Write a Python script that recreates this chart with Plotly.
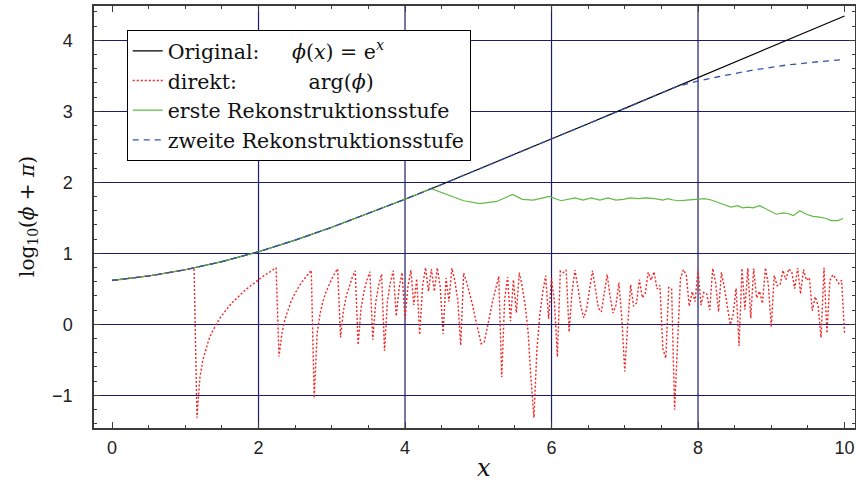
import plotly.graph_objects as go

# ---------------- data ----------------
orig_x = [0.0, 0.5, 1.0, 1.5, 2.0, 2.5, 3.0, 3.5, 4.0, 4.5, 5.0,
          5.5, 6.0, 6.5, 7.0, 7.5, 8.0, 8.5, 9.0, 9.5, 10.0]
orig_y = [0.617, 0.680, 0.768, 0.882, 1.022, 1.185, 1.366, 1.559, 1.761, 1.969, 2.181,
          2.394, 2.609, 2.825, 3.041, 3.258, 3.475, 3.692, 3.909, 4.126, 4.343]

red_x = [0.0, 0.2, 0.4, 0.6, 0.8, 1.0, 1.12,
         1.16, 1.20, 1.24, 1.28, 1.32, 1.36, 1.40, 1.44, 1.48, 1.52,
         1.56, 1.60, 1.64, 1.68, 1.72, 1.76, 1.80, 1.84, 1.88, 1.92,
         1.96, 2.00, 2.04, 2.08, 2.12, 2.16, 2.20, 2.24, 2.28, 2.32,
         2.36, 2.40, 2.44, 2.48, 2.52, 2.56, 2.60, 2.64, 2.68, 2.72,
         2.76, 2.80, 2.84, 2.88, 2.92, 2.96, 3.00, 3.04, 3.08, 3.12,
         3.16, 3.20, 3.24, 3.28, 3.32, 3.36, 3.40, 3.44, 3.48, 3.52,
         3.56, 3.60, 3.64, 3.68, 3.72, 3.76, 3.80, 3.84, 3.88, 3.92,
         3.96, 4.00, 4.04, 4.08, 4.12, 4.16, 4.20, 4.24, 4.28, 4.32,
         4.36, 4.40, 4.44, 4.48, 4.52, 4.56, 4.60, 4.64, 4.68, 4.72,
         4.76, 4.80, 4.84, 4.88, 4.92, 4.96, 5.00, 5.04, 5.08, 5.12,
         5.16, 5.20, 5.24, 5.28, 5.32, 5.36, 5.40, 5.44, 5.48, 5.52,
         5.56, 5.60, 5.64, 5.68, 5.72, 5.76, 5.80, 5.84, 5.88, 5.92,
         5.96, 6.00, 6.04, 6.08, 6.12, 6.16, 6.20, 6.24, 6.28, 6.32,
         6.36, 6.40, 6.44, 6.48, 6.52, 6.56, 6.60, 6.64, 6.68, 6.72,
         6.76, 6.80, 6.84, 6.88, 6.92, 6.96, 7.00, 7.04, 7.08, 7.12,
         7.16, 7.20, 7.24, 7.28, 7.32, 7.36, 7.40, 7.44, 7.48, 7.52,
         7.56, 7.60, 7.64, 7.68, 7.72, 7.76, 7.80, 7.84, 7.88, 7.92,
         7.96, 8.00, 8.04, 8.08, 8.12, 8.16, 8.20, 8.24, 8.28, 8.32,
         8.36, 8.40, 8.44, 8.48, 8.52, 8.56, 8.60, 8.64, 8.68, 8.72,
         8.76, 8.80, 8.84, 8.88, 8.92, 8.96, 9.00, 9.04, 9.08, 9.12,
         9.16, 9.20, 9.24, 9.28, 9.32, 9.36, 9.40, 9.44, 9.48, 9.52,
         9.56, 9.60, 9.64, 9.68, 9.72, 9.76, 9.80, 9.84, 9.88, 9.92,
         9.96, 10.00]
red_y = [0.617, 0.640, 0.666, 0.696, 0.730, 0.768, 0.793,
         -1.316, -0.748, -0.503, -0.342, -0.221, -0.122, -0.039, 0.033, 0.097, 0.156,
         0.209, 0.258, 0.304, 0.347, 0.388, 0.427, 0.464, 0.499, 0.533, 0.566,
         0.597, 0.628, 0.658, 0.687, 0.715, 0.743, 0.770, 0.796, -0.454, -0.124,
         0.067, 0.204, 0.311, 0.401, 0.478, 0.545, 0.606, 0.662, 0.713, 0.760,
         -1.037, -0.133, 0.149, 0.324, 0.452, 0.555, 0.641, 0.716, 0.782, -0.184,
         0.199, 0.405, 0.549, 0.661, 0.754, -0.288, 0.228, 0.464, 0.622, 0.741,
         -0.218, 0.310, 0.548, 0.707, -0.373, 0.324, 0.587, 0.755, 0.114, 0.515,
         0.727, 0.076, 0.534, 0.759, 0.272, 0.642, -0.147, 0.536, 0.797, 0.467,
         0.778, 0.464, 0.795, 0.533, -0.137, 0.651, 0.321, 0.789, 0.612, 0.345,
         -0.295, 0.722, 0.596, 0.451, 0.282, 0.087, -0.120, -0.274, -0.257, -0.080,
         0.139, 0.343, 0.521, 0.675, -0.744, 0.350, 0.666, 0.044, 0.626, 0.161,
         0.729, 0.530, 0.270, -0.107, -0.769, -1.315, -0.364, 0.129, 0.449, 0.685,
         0.077, 0.648, 0.314, -0.459, 0.749, 0.727, 0.764, -0.109, 0.456, 0.763,
         0.523, 0.256, 0.090, 0.221, 0.496, 0.756, 0.492, 0.227, 0.175, 0.411,
         0.698, 0.397, 0.157, 0.273, 0.588, 0.079, -0.663, -0.005, 0.555, 0.256,
         0.301, 0.629, 0.374, 0.434, 0.731, 0.621, 0.740, 0.498, 0.547, -0.345,
         -0.478, 0.517, 0.498, -1.205, -0.359, 0.645, 0.769, 0.694, 0.254, 0.459,
         0.319, 0.769, 0.270, 0.450, 0.425, 0.203, 0.787, 0.593, 0.175, 0.731,
         0.515, 0.234, -0.005, 0.143, 0.507, -0.305, 0.787, 0.205, 0.787, 0.085,
         0.786, 0.370, 0.464, 0.294, 0.795, 0.560, -0.038, 0.689, 0.544, 0.555,
         0.759, 0.629, 0.781, 0.737, 0.503, 0.793, 0.427, 0.772, 0.620, 0.656,
         0.192, 0.387, 0.259, -0.188, 0.794, -0.126, 0.618, 0.698, 0.648, 0.573,
         0.620, -0.119]

green_x = [0.0, 0.5, 1.0, 1.5, 2.0, 2.5, 3.0, 3.5, 4.0, 4.36,
           4.6, 4.8, 5.02, 5.25, 5.47, 5.6, 5.75, 5.97,
           6.13, 6.32, 6.43, 6.54, 6.66, 6.77, 6.88, 6.98,
           7.07, 7.18, 7.29, 7.41, 7.52, 7.59, 7.66, 7.75, 7.84, 7.91, 7.97,
           8.09, 8.18, 8.34, 8.45, 8.54, 8.61, 8.68, 8.75, 8.84,
           8.95, 9.07, 9.16, 9.23, 9.30, 9.39, 9.48, 9.57, 9.66, 9.75, 9.82, 9.91, 9.98]
green_y = [0.617, 0.680, 0.768, 0.882, 1.022, 1.185, 1.366, 1.559, 1.761, 1.911,
           1.82, 1.74, 1.70, 1.73, 1.83, 1.76, 1.75, 1.80,
           1.74, 1.78, 1.75, 1.78, 1.75, 1.78, 1.75, 1.76,
           1.78, 1.77, 1.78, 1.77, 1.75, 1.77, 1.75, 1.74, 1.75, 1.75, 1.76,
           1.77, 1.75, 1.69, 1.65, 1.67, 1.64, 1.65, 1.64, 1.67,
           1.61, 1.55, 1.57, 1.56, 1.53, 1.60, 1.55, 1.52, 1.51, 1.49, 1.46, 1.46, 1.49]

blue_x = [0.0, 0.5, 1.0, 1.5, 2.0, 2.5, 3.0, 3.5, 4.0, 4.5, 5.0,
          5.5, 6.0, 6.5, 7.0, 7.5, 7.72, 7.98, 8.29, 8.75, 9.2, 9.66, 10.0]
blue_y = [0.617, 0.680, 0.768, 0.882, 1.022, 1.185, 1.366, 1.559, 1.761, 1.969, 2.181,
          2.394, 2.609, 2.825, 3.041, 3.258, 3.354, 3.42, 3.49, 3.58, 3.65, 3.70, 3.73]

grid_x = [2, 4, 6, 8]

NBSP = "\u00a0"
PHI = "\u03d5"
names = [
    "Original:" + NBSP * 5 + "<i>" + PHI + "</i>(<i>x</i>) = e<sup><i>x</i></sup>",
    "direkt:" + NBSP * 11 + "arg(<i>" + PHI + "</i>)",
    "erste Rekonstruktionsstufe",
    "zweite Rekonstruktionsstufe",
]

NAVY = "#1c1c6b"
FRAME = "#3c3c3c"

fig = go.Figure()
fig.add_trace(go.Scatter(x=orig_x, y=orig_y, mode="lines", name=names[0],
                         line=dict(color="black", width=1.2)))
fig.add_trace(go.Scatter(x=red_x, y=red_y, mode="lines", name=names[1],
                         line=dict(color="#f02424", width=1.4, dash="2px,2px")))
fig.add_trace(go.Scatter(x=green_x, y=green_y, mode="lines", name=names[2],
                         line=dict(color="#62b946", width=1.2)))
fig.add_trace(go.Scatter(x=blue_x, y=blue_y, mode="lines", name=names[3],
                         line=dict(color="#3452a8", width=1.3, dash="6px,5px")))

for gx in grid_x:
    fig.add_shape(type="line", x0=gx, x1=gx, xref="x", y0=0, y1=1, yref="paper",
                  line=dict(color=NAVY, width=1.2), layer="below")

tickfont = dict(family="Liberation Sans, Arial, sans-serif", size=18, color="#222222")

fig.update_xaxes(range=[-0.246, 10.143], dtick=2, tick0=0, showgrid=False, zeroline=False,
                 automargin=False,
                 showline=True, linecolor=FRAME, linewidth=1.5, mirror="allticks",
                 ticks="inside", ticklen=6, tickcolor=FRAME, tickwidth=1.2,
                 minor=dict(dtick=0.5, ticks="inside", ticklen=3.5, tickcolor=FRAME, showgrid=False),
                 tickfont=tickfont, ticklabelstandoff=3)
fig.update_yaxes(range=[-1.461, 4.483], dtick=1, tick0=0, showgrid=True, gridcolor=NAVY, gridwidth=1.2,
                 zeroline=False, automargin=False,
                 showline=True, linecolor=FRAME, linewidth=1.5, mirror="allticks",
                 ticks="inside", ticklen=6, tickcolor=FRAME, tickwidth=1.2,
                 minor=dict(dtick=0.2, ticks="inside", ticklen=3.5, tickcolor=FRAME, showgrid=False),
                 tickfont=tickfont, ticklabelstandoff=16)

fig.add_annotation(text="log<sub>10</sub>(<i>" + PHI + "</i> + <i>π</i>)", xref="paper", yref="paper",
                   x=-0.0867, y=0.5, xanchor="center", yanchor="middle", textangle=-90,
                   showarrow=False, font=dict(family="DejaVu Serif", size=20, color="#111111"))
fig.add_annotation(text="<i>x</i>", xref="paper", yref="paper",
                   x=0.5125, y=-0.095, xanchor="center", yanchor="middle",
                   showarrow=False, font=dict(family="DejaVu Serif", size=24, color="#111111"))

fig.update_layout(
    width=856, height=489,
    margin=dict(l=94, r=1, t=6, b=61, autoexpand=False),
    paper_bgcolor="white", plot_bgcolor="white",
    showlegend=True,
    legend=dict(x=0.043, y=0.943, xanchor="left", yanchor="top",
                bgcolor="white", bordercolor="black", borderwidth=1,
                font=dict(family="DejaVu Serif", size=20.5, color="#111111"),
                traceorder="normal"),
)

fig.write_html("out.html", config={"displayModeBar": False},
               post_script="document.body.style.margin='0px';")
